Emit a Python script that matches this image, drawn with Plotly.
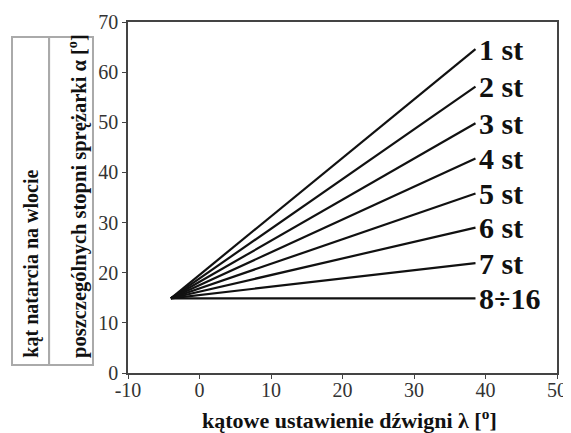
import plotly.graph_objects as go

# Data
stage_labels = ["1 st", "2 st", "3 st", "4 st", "5 st", "6 st", "7 st", "8÷16"]
x_start = -4.0
y_start = 14.9
x_end = 38.6
y_end = [64.6, 57.1, 49.8, 42.8, 35.8, 29.0, 21.9, 14.9]

x_ticks = [-10, 0, 10, 20, 30, 40, 50]
y_ticks = [0, 10, 20, 30, 40, 50, 60, 70]

serif = "'Liberation Serif', 'Times New Roman', Tinos, 'DejaVu Serif', serif"
fig = go.Figure()

for lab, ye in zip(stage_labels, y_end):
    fig.add_trace(go.Scatter(
        x=[x_start, x_end], y=[y_start, ye], mode="lines",
        line=dict(color="#111111", width=2.2), name=lab, showlegend=False,
        hoverinfo="skip"))
    fig.add_annotation(x=x_end, y=ye, text="<b>" + lab + "</b>", showarrow=False,
                       xanchor="left", yanchor="middle", xshift=2,
                       font=dict(family=serif, size=30, color="#111111"))

axis_common = dict(showline=True, linecolor="#444444", linewidth=1.5, mirror=True,
                   ticks="outside", ticklen=4, tickcolor="#444444", tickwidth=1,
                   showgrid=False, zeroline=False, automargin=False,
                   ticklabeloverflow="allow",
                   tickfont=dict(family=serif, size=20, color="#333333"))

fig.update_xaxes(range=[-10, 50], tickvals=x_ticks, ticktext=[str(v) for v in x_ticks],
                 ticklabelstandoff=-6, **axis_common)
fig.update_yaxes(range=[0, 70], tickvals=y_ticks, ticktext=[str(v) for v in y_ticks],
                 **axis_common)

# x-axis title
fig.add_annotation(xref="paper", yref="paper", x=0.517, y=-0.13, showarrow=False,
                   xanchor="center", yanchor="middle",
                   text="<b>kątowe ustawienie dźwigni λ [<sup>o</sup>]</b>",
                   font=dict(family=serif, size=22, color="#111111"))

# y-axis label box (table-like)
box_color = "#aaaaaa"
x0, xm, x1 = -0.2704, -0.184, -0.0816
y0, y1 = 0.0228, 0.957
for sx0, sx1 in [(x0, xm), (xm, x1)]:
    fig.add_shape(type="rect", xref="paper", yref="paper", x0=sx0, x1=sx1, y0=y0, y1=y1,
                  line=dict(color=box_color, width=2), fillcolor="rgba(0,0,0,0)")

fig.add_annotation(xref="paper", yref="paper", x=-0.227, y=0.037, showarrow=False,
                   xanchor="center", yanchor="bottom", textangle=-90,
                   text="<b>kąt natarcia na wlocie</b>",
                   font=dict(family=serif, size=20, color="#111111"))
fig.add_annotation(xref="paper", yref="paper", x=-0.119, y=0.037, showarrow=False,
                   xanchor="center", yanchor="bottom", textangle=-90,
                   text="<b>poszczególnych stopni sprężarki α [<sup>o</sup>]</b>",
                   font=dict(family=serif, size=20.5, color="#111111"))

# page body has an 8px default margin, so size the figure to fit the window
fig.update_layout(width=563, height=425, plot_bgcolor="white", paper_bgcolor="white",
                  margin=dict(l=120, r=14, t=14, b=60, autoexpand=False), showlegend=False)

fig.write_html("out.html")
